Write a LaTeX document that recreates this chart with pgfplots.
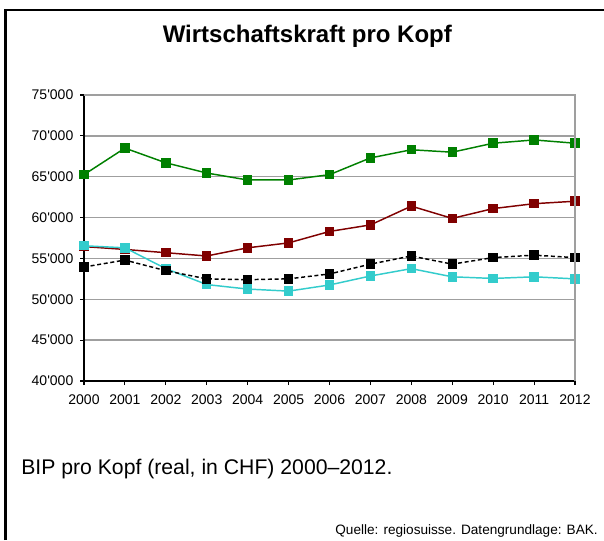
\documentclass[border=0pt]{standalone}
\usepackage{fontspec}
\setmainfont{Liberation Sans}
\usepackage{pgfplots}
\pgfplotsset{compat=1.18}
\definecolor{cgreen}{RGB}{0,128,0}
\definecolor{cred}{RGB}{128,0,0}
\definecolor{ccyan}{RGB}{51,204,204}
\begin{document}
\begin{tikzpicture}
\useasboundingbox (0,0) rectangle (453pt,405pt);
\fill[white] (0,0) rectangle (453pt,405pt);
\draw[line width=2.2pt] (4.1pt,0) -- (4.1pt,397.5pt) -- (453pt,397.5pt);
\node[anchor=base, font=\fontsize{18}{21}\selectfont\bfseries] at (230.5pt,373pt) {Wirtschaftskraft pro Kopf};
\node[anchor=base west, inner sep=0pt, font=\fontsize{15.9}{18}\selectfont] at (15.75pt,49.5pt) {BIP pro Kopf (real, in CHF) 2000–2012.};
\node[anchor=base east, inner sep=0pt, font=\fontsize{10.2}{12}\selectfont] at (448.5pt,4pt) {Quelle: regiosuisse. Datengrundlage: BAK.};
\begin{axis}[
  at={(63pt,119.25pt)}, anchor=south west,
  scale only axis, width=368.25pt, height=214.5pt,
  xmin=2000, xmax=2012, ymin=40000, ymax=75000,
  xtick={2000,2001,...,2012},
  ytick={40000,45000,...,75000},
  axis lines=left, axis line style={-, line width=0.9pt, black},
  tick align=outside, major tick length=3pt,
  tick style={black, line width=0.8pt},
  ymajorgrids, grid style={gray!75, line width=1pt},
  /pgf/number format/assume math mode=true,
  every tick label/.append style={font=\fontsize{10.5}{12}\selectfont},
  x tick label style={/pgf/number format/1000 sep={}},
  y tick label style={/pgf/number format/1000 sep={\textquotesingle}},
  xticklabel style={yshift=-3.5pt},
  yticklabel style={xshift=-1.5pt},
  scaled y ticks=false,
  clip=false,
  every axis plot/.append style={line width=1.1pt, mark=square*, mark size=3pt, mark options={solid}},
  after end axis/.code={\draw[gray!75, line width=1pt] (rel axis cs:0,1) -- (rel axis cs:1,1) -- (rel axis cs:1,0);},
]
\addplot[color=cgreen] coordinates {
(2000,65250) (2001,68500) (2002,66700) (2003,65450) (2004,64600) (2005,64600) (2006,65250)
(2007,67300) (2008,68300) (2009,68000) (2010,69100) (2011,69500) (2012,69100)};
\addplot[color=cred] coordinates {
(2000,56450) (2001,56100) (2002,55700) (2003,55300) (2004,56300) (2005,56900) (2006,58300)
(2007,59100) (2008,61400) (2009,59900) (2010,61100) (2011,61700) (2012,62000)};
\addplot[color=ccyan] coordinates {
(2000,56550) (2001,56300) (2002,53750) (2003,51800) (2004,51250) (2005,51000) (2006,51750)
(2007,52850) (2008,53750) (2009,52750) (2010,52550) (2011,52750) (2012,52500)};
\addplot[color=black, dash pattern=on 3pt off 2pt] coordinates {
(2000,53950) (2001,54800) (2002,53500) (2003,52500) (2004,52400) (2005,52500) (2006,53100)
(2007,54300) (2008,55300) (2009,54300) (2010,55100) (2011,55400) (2012,55100)};
\end{axis}
\end{tikzpicture}
\end{document}
